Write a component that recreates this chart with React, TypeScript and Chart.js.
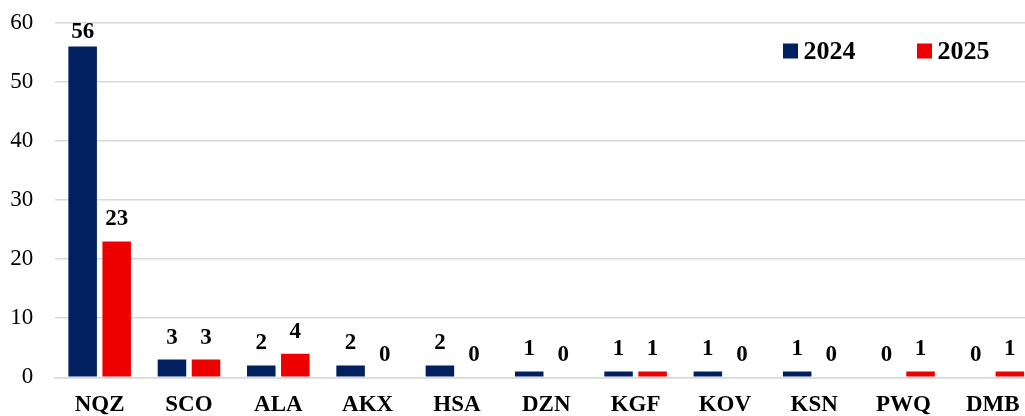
import React, { useEffect, useRef } from "react";
import { Chart, registerables } from "chart.js";

Chart.register(...registerables);

const categories = ["NQZ", "SCO", "ALA", "AKX", "HSA", "DZN", "KGF", "KOV", "KSN", "PWQ", "DMB"];
const values2024 = [56, 3, 2, 2, 2, 1, 1, 1, 1, 0, 0];
const values2025 = [23, 3, 4, 0, 0, 0, 1, 0, 0, 1, 1];
const seriesLabels = ["2024", "2025"];
const seriesColors = ["#002060", "#ee0000"];
const yTicks = [0, 10, 20, 30, 40, 50, 60];

const SERIF = "'Liberation Serif', 'Times New Roman', serif";

// Value labels drawn above every bar
const valueLabels = {
  id: "valueLabels",
  afterDatasetsDraw(chart: any) {
    const ctx = chart.ctx;
    ctx.save();
    ctx.font = `bold 23px ${SERIF}`;
    ctx.fillStyle = "#000";
    ctx.textAlign = "center";
    ctx.textBaseline = "alphabetic";
    chart.data.datasets.forEach((ds: any, i: number) => {
      const meta = chart.getDatasetMeta(i);
      meta.data.forEach((el: any, j: number) => {
        const y = Math.max(el.y - 16, chart.chartArea.top + 15.5);
        ctx.fillText(String(ds.data[j]), el.x, y);
      });
    });
    ctx.restore();
  },
};

// Legend in the upper right of the plot
const cornerLegend = {
  id: "cornerLegend",
  afterDraw(chart: any) {
    const ctx = chart.ctx;
    const starts = [783, 917];
    ctx.save();
    ctx.font = `bold 26px ${SERIF}`;
    ctx.textAlign = "left";
    ctx.textBaseline = "alphabetic";
    chart.data.datasets.forEach((ds: any, i: number) => {
      const x = starts[i];
      ctx.fillStyle = ds.backgroundColor;
      ctx.fillRect(x, 43.5, 15, 15);
      ctx.fillStyle = "#000";
      ctx.fillText(ds.label, x + 20.5, 59);
    });
    ctx.restore();
  },
};

export default function App() {
  const canvasRef = useRef<HTMLCanvasElement | null>(null);

  useEffect(() => {
    if (!canvasRef.current) return;
    const chart = new Chart(canvasRef.current, {
      type: "bar",
      data: {
        labels: categories,
        datasets: [
          { label: seriesLabels[0], data: values2024, backgroundColor: seriesColors[0] },
          { label: seriesLabels[1], data: values2025, backgroundColor: seriesColors[1] },
        ],
      },
      plugins: [valueLabels, cornerLegend],
      options: {
        responsive: false,
        animation: false,
        layout: { padding: { top: 22.8, right: 2.5, left: 0, bottom: 0 } },
        datasets: {
          bar: { categoryPercentage: 0.762, barPercentage: 0.838 },
        },
        plugins: {
          legend: { display: false },
          tooltip: { enabled: false },
        },
        scales: {
          x: {
            grid: { display: false, drawTicks: false },
            border: { display: true, color: "#d9d9d9", width: 1.5 },
            ticks: {
              padding: 13.9,
              color: "#000",
              font: { family: SERIF, size: 23, weight: "bold" },
            },
            afterFit: (s: any) => {
              s.height = 38.7;
            },
          },
          y: {
            min: 0,
            max: 60,
            afterBuildTicks: (s: any) => {
              s.ticks = yTicks.map((v) => ({ value: v }));
            },
            grid: { color: "#d9d9d9", lineWidth: 1.5, drawTicks: false },
            border: { display: false },
            ticks: {
              padding: 21.7,
              color: "#000",
              font: { family: SERIF, size: 23 },
            },
            afterFit: (s: any) => {
              s.width = 55;
              // keep the label gap from pushing the plot area down
              s.paddingTop = 0;
              s.paddingBottom = 0;
            },
          },
        },
      },
    });
    return () => chart.destroy();
  }, []);

  return (
    <div
      style={{
        position: "fixed",
        left: 0,
        top: 0,
        width: 1025,
        height: 416,
        overflow: "hidden",
        background: "#fff",
      }}
    >
      <canvas ref={canvasRef} width={1040} height={416} style={{ display: "block" }} />
    </div>
  );
}
